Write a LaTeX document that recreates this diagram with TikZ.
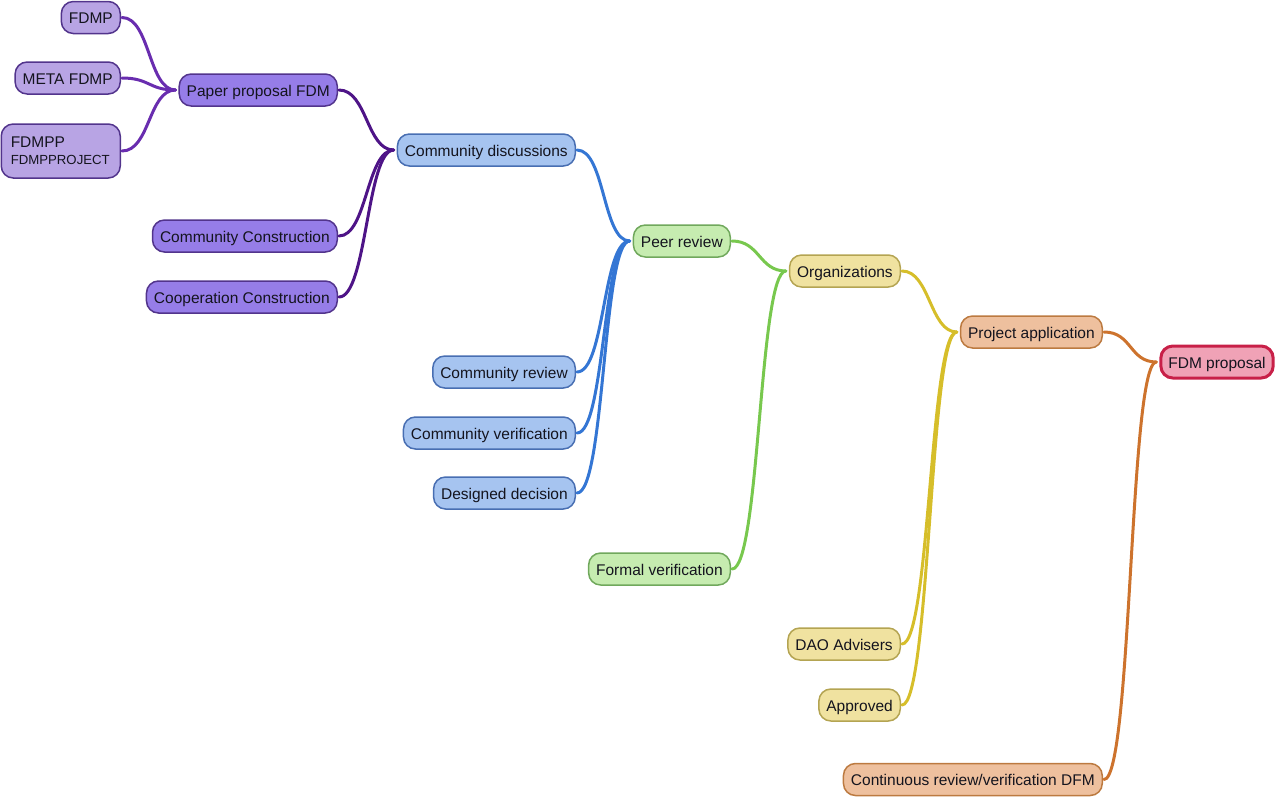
\documentclass[tikz,border=0pt]{standalone}
\usepackage{fontspec}
\setmainfont{Liberation Sans}
\definecolor{pfillL}{RGB}{184,164,228}
\definecolor{pfill}{RGB}{150,125,232}
\definecolor{pline}{RGB}{82,52,140}
\definecolor{pedgeL}{RGB}{105,45,175}
\definecolor{pedge}{RGB}{78,20,135}
\definecolor{bfill}{RGB}{166,196,240}
\definecolor{bline}{RGB}{72,110,178}
\definecolor{bedge}{RGB}{52,118,212}
\definecolor{gfill}{RGB}{198,236,176}
\definecolor{gline}{RGB}{112,168,92}
\definecolor{gedge}{RGB}{120,200,78}
\definecolor{yfill}{RGB}{240,226,160}
\definecolor{yline}{RGB}{180,164,82}
\definecolor{yedge}{RGB}{214,190,42}
\definecolor{ofill}{RGB}{238,192,158}
\definecolor{oline}{RGB}{188,122,64}
\definecolor{oedge}{RGB}{205,115,45}
\definecolor{rfill}{RGB}{240,162,182}
\definecolor{rline}{RGB}{200,32,72}
\definecolor{txt}{RGB}{20,20,30}
\tikzset{
  mbox/.style={rounded corners=12pt, minimum height=32pt, inner xsep=7.5pt, inner ysep=3pt, line width=1.5pt, text=txt, font=\fontsize{15.5}{18}\selectfont, text height=13.5pt, text depth=1.5pt},
  purL/.style={mbox, draw=pline, fill=pfillL},
  pur/.style={mbox, draw=pline, fill=pfill},
  blu/.style={mbox, draw=bline, fill=bfill},
  grn/.style={mbox, draw=gline, fill=gfill},
  yel/.style={mbox, draw=yline, fill=yfill},
  org/.style={mbox, draw=oline, fill=ofill},
  red/.style={mbox, draw=rline, fill=rfill, line width=3pt},
  con/.style={line width=3pt, line cap=round}
}
\begin{document}
\begin{tikzpicture}[x=1pt,y=-1pt]
\useasboundingbox (0,0) rectangle (1280,801);
% level 0
\node[red, anchor=center] (fdm) at (1217,362) {FDM proposal};
% level 1
\node[org, anchor=east] (pa) at (1103,332) {Project application};
\node[org, anchor=east] (cr) at (1103,779.5) {Continuous review/verification DFM};
% level 2
\node[yel, anchor=east] (org) at (901,271) {Organizations};
\node[yel, anchor=east] (dao) at (901,644) {DAO Advisers};
\node[yel, anchor=east] (app) at (901,705) {Approved};
% level 3
\node[grn, anchor=east] (peer) at (731,241) {Peer review};
\node[grn, anchor=east] (fv) at (731,569) {Formal verification};
% level 4
\node[blu, anchor=east] (cd) at (576,150) {Community discussions};
\node[blu, anchor=east] (crv) at (576,372) {Community review};
\node[blu, anchor=east] (cvf) at (576,433) {Community verification};
\node[blu, anchor=east] (dd) at (576,493) {Designed decision};
% level 5
\node[pur, anchor=east] (ppf) at (338,90) {Paper proposal FDM};
\node[pur, anchor=east] (cc) at (338,236) {Community Construction};
\node[pur, anchor=east] (coc) at (338,297) {Cooperation Construction};
% level 6
\node[purL, anchor=east] (fdmp) at (121,17.5) {FDMP};
\node[purL, anchor=east] (meta) at (121,78) {META FDMP};
\node[purL, anchor=east, minimum height=54pt, align=left, text width=100pt, text height=, text depth=, inner xsep=9.5pt, inner ysep=5pt] (fdmpp) at (121,151) {FDMPP\\[-1pt]{\fontsize{13.2}{15}\selectfont FDMPPROJECT}};
% connectors
\foreach \p/\c/\col in {fdm/pa/oedge, fdm/cr/oedge, pa/org/yedge, pa/dao/yedge, pa/app/yedge, org/peer/gedge, org/fv/gedge, peer/cd/bedge, peer/crv/bedge, peer/cvf/bedge, peer/dd/bedge, cd/ppf/pedge, cd/cc/pedge, cd/coc/pedge, ppf/fdmp/pedgeL, ppf/meta/pedgeL, ppf/fdmpp/pedgeL}
  \draw[con, draw=\col] ([xshift=-3pt]\p.west) .. controls +(-27,0) and +(28,0) .. ([xshift=1pt]\c.east);
\end{tikzpicture}
\end{document}
